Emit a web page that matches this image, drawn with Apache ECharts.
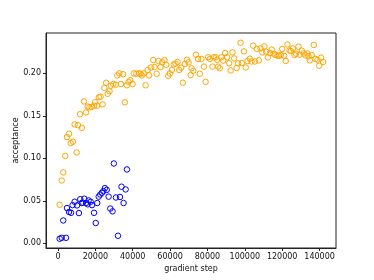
<!DOCTYPE html>
<html>
<head>
<meta charset="utf-8">
<script src="https://cdn.jsdelivr.net/npm/echarts@6/dist/echarts.min.js"></script>
<style>html,body{margin:0;padding:0;background:#fff}#c{width:374px;height:280px}</style>
</head>
<body>
<div id="c"></div>
<script>
var xTicks = [0, 20000, 40000, 60000, 80000, 100000, 120000, 140000];
var yTicks = [0, 0.05, 0.10, 0.15, 0.20];

var stepsOrange = [900,2000,2800,3900,4800,5900,6800,8000,8900,10000,10700,11800,12800,13900,15000,15900,16800,18000,19300,19900,20900,21900,22800,23900,24800,25800,26600,27600,28300,29600,30900,31700,32800,33700,34900,35800,36900,37800,38700,39900,40600,41900,43300,44200,44900,45800,46900,48000,48800,49700,51000,51700,52800,53800,54900,55800,57000,57900,59000,59900,61000,61900,62900,64000,64900,65900,66800,67900,69000,69900,71000,71500,72400,73800,75000,75900,76800,78100,79000,80400,81300,82700,83400,84500,85200,85700,86600,87500,88400,89500,90500,91600,92400,93400,94300,95600,96400,97700,98400,99500,100500,101400,102700,103600,104500,105400,106400,107500,108400,109300,110500,111400,112300,113400,114400,115400,116400,117500,118300,119300,120000,121000,121900,122800,123900,124600,125700,126600,127400,128700,129400,130500,131600,132500,133500,134100,134800,135800,136900,137800,138900,139800,140800,141900];
var accOrange = [0.0455,0.074,0.0835,0.103,0.125,0.129,0.118,0.1196,0.140,0.107,0.139,0.152,0.136,0.167,0.154,0.161,0.160,0.1605,0.162,0.166,0.162,0.172,0.1726,0.1635,0.183,0.189,0.176,0.179,0.1855,0.1875,0.1867,0.1976,0.200,0.1875,0.199,0.166,0.186,0.190,0.192,0.1875,0.200,0.1996,0.200,0.1996,0.1976,0.200,0.186,0.204,0.1976,0.207,0.2157,0.2075,0.1996,0.2146,0.2075,0.213,0.2157,0.210,0.197,0.200,0.204,0.2106,0.2114,0.2134,0.204,0.2067,0.189,0.211,0.216,0.213,0.198,0.206,0.203,0.222,0.217,0.1996,0.217,0.208,0.190,0.219,0.217,0.208,0.219,0.219,0.216,0.208,0.206,0.219,0.215,0.224,0.219,0.212,0.2035,0.2247,0.2176,0.2063,0.2118,0.236,0.2122,0.2259,0.207,0.2146,0.2173,0.214,0.2326,0.214,0.2287,0.2153,0.2294,0.2247,0.2318,0.2255,0.2188,0.224,0.2279,0.2232,0.2216,0.2208,0.2208,0.2216,0.2287,0.2208,0.2146,0.234,0.227,0.2263,0.2294,0.2216,0.2232,0.2314,0.222,0.2267,0.2235,0.2212,0.2235,0.220,0.2153,0.2216,0.2334,0.217,0.216,0.209,0.2185,0.2134];

var stepsBlue = [900,2000,2800,4300,4800,5900,7000,7800,8900,10200,11200,11900,12700,13200,14100,15000,15900,16400,17500,18200,19300,20200,21000,21800,22600,23500,24300,25100,26100,27100,28000,29200,29900,31000,32100,33200,34000,35100,36200,36900];
var accBlue = [0.0055,0.0066,0.027,0.0066,0.0416,0.037,0.036,0.045,0.049,0.0447,0.0357,0.052,0.0475,0.048,0.0526,0.0475,0.046,0.0506,0.049,0.045,0.036,0.024,0.0475,0.055,0.0575,0.0595,0.0615,0.065,0.063,0.055,0.041,0.0377,0.094,0.054,0.009,0.0546,0.0667,0.0475,0.0635,0.087];

function zip(a, b) { return a.map(function (v, i) { return [v, b[i]]; }); }

var font = 'DejaVu Sans';
var chart = echarts.init(document.getElementById('c'), null, { renderer: 'canvas' });
chart.setOption({
  animation: false,
  backgroundColor: '#fff',
  grid: { left: 46, top: 33, right: 38, bottom: 32, containLabel: false, outerBoundsMode: 'none',
          show: true, borderColor: '#222', borderWidth: 1, backgroundColor: 'transparent' },
  xAxis: {
    type: 'value', min: -6417, max: 148800,
    name: 'gradient step', nameLocation: 'middle', nameGap: 17, nameMoveOverlap: false,
    nameTextStyle: { fontFamily: font, fontSize: 8, color: '#111' },
    axisLine: { show: true, onZero: false, lineStyle: { color: '#222', width: 1 } },
    axisTick: { show: true, inside: false, length: 3, lineStyle: { color: '#222', width: 1 }, customValues: xTicks },
    axisLabel: { fontFamily: font, fontSize: 8, color: '#111', margin: 5, customValues: xTicks, formatter: function (v) { return String(Math.round(v)); } },
    splitLine: { show: false }
  },
  yAxis: {
    type: 'value', min: -0.0054, max: 0.2475,
    name: 'acceptance', nameLocation: 'middle', nameGap: 26, nameMoveOverlap: false,
    nameTextStyle: { fontFamily: font, fontSize: 8, color: '#111' },
    axisLine: { show: true, onZero: false, lineStyle: { color: '#222', width: 1 } },
    axisTick: { show: true, inside: false, length: 3, lineStyle: { color: '#222', width: 1 }, customValues: yTicks },
    axisLabel: { fontFamily: font, fontSize: 8, color: '#111', margin: 5, customValues: yTicks, formatter: function (v) { return v.toFixed(2); } },
    splitLine: { show: false }
  },
  series: [
    { type: 'scatter', data: zip(stepsOrange, accOrange), symbol: 'circle', symbolSize: 5.5,
      itemStyle: { color: 'rgba(0,0,0,0)', borderColor: '#FFA500', borderWidth: 1, opacity: 1 } },
    { type: 'scatter', data: zip(stepsBlue, accBlue), symbol: 'circle', symbolSize: 5.5,
      itemStyle: { color: 'rgba(0,0,0,0)', borderColor: '#0000FF', borderWidth: 1, opacity: 1 } }
  ]
});
</script>
</body>
</html>
